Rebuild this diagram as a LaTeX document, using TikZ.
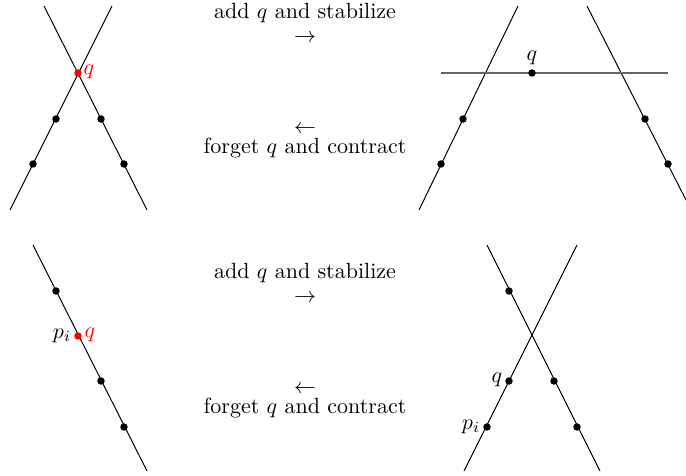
\documentclass[tikz,border=0pt]{standalone}
\begin{document}
\begin{tikzpicture}[x=0.4545pt,y=-0.4545pt,
  dot/.style={circle,fill=black,inner sep=0pt,minimum size=3.4pt},
  rdot/.style={circle,fill=red,inner sep=0pt,minimum size=3.4pt},
  lbl/.style={inner sep=0pt},
  txt/.style={inner sep=0pt},
  ln/.style={line width=0.45pt}]
\useasboundingbox (0,0) rectangle (686,476);
% ---------- top left ----------
\coordinate (a1) at (44,6);  \coordinate (a2) at (147,210);
\coordinate (b1) at (112,6); \coordinate (b2) at (10,210);
\draw[ln] (a1) -- (a2);
\draw[ln] (b1) -- (b2);
\node[rdot] (tlq) at (78,73) {};
\node[dot] (tl1) at (56,119) {};
\node[dot] (tl2) at (101,119) {};
\node[dot] (tl3) at (33,164) {};
\node[dot] (tl4) at (124,164) {};
\node[lbl,text=red] (tlql) at (89,72) {$q$};
% ---------- top right ----------
\coordinate (c1) at (518,6); \coordinate (c2) at (419,210);
\coordinate (d1) at (587,6); \coordinate (d2) at (686,200);
\coordinate (h1) at (441,73); \coordinate (h2) at (668,73);
\draw[ln] (c1) -- (c2);
\draw[ln] (d1) -- (d2);
\draw[line width=0.6pt,draw=black!60] (h1) -- (h2);
\node[dot] (trq) at (532,73) {};
\node[dot] (tr1) at (463,119) {};
\node[dot] (tr2) at (645,119) {};
\node[dot] (tr3) at (441,164) {};
\node[dot] (tr4) at (668,164) {};
\node[lbl] (trql) at (532,58) {$q$};
% ---------- top text ----------
\node[txt] (t1) at (305,13) {add $q$ and stabilize};
\node[txt] (t2) at (305,38) {$\rightarrow$};
\node[txt] (t3) at (305,129) {$\leftarrow$};
\node[txt] (t4) at (305,148) {forget $q$ and contract};
% ---------- bottom left ----------
\coordinate (e1) at (33,245); \coordinate (e2) at (147,471);
\draw[ln] (e1) -- (e2);
\node[dot] (bl1) at (56,291) {};
\node[rdot] (blq) at (78,336) {};
\node[dot] (bl2) at (101,381) {};
\node[dot] (bl3) at (124,427) {};
\node[lbl] (blpl) at (62,336) {$p_i$};
\node[lbl,text=red] (blql) at (90,335) {$q$};
% ---------- bottom right ----------
\coordinate (f1) at (487,245); \coordinate (f2) at (600,471);
\coordinate (g1) at (577,245); \coordinate (g2) at (464,471);
\draw[ln] (f1) -- (f2);
\draw[ln] (g1) -- (g2);
\node[dot] (br1) at (509,291) {};
\node[dot] (br2) at (554,381) {};
\node[dot] (br3) at (577,427) {};
\node[dot] (brq) at (509,381) {};
\node[dot] (brp) at (487,427) {};
\node[lbl] (brql) at (497,380) {$q$};
\node[lbl] (brpl) at (471,427) {$p_i$};
% ---------- bottom text ----------
\node[txt] (u1) at (305,273) {add $q$ and stabilize};
\node[txt] (u2) at (305,298) {$\rightarrow$};
\node[txt] (u3) at (305,389) {$\leftarrow$};
\node[txt] (u4) at (305,408) {forget $q$ and contract};
\end{tikzpicture}
\end{document}
